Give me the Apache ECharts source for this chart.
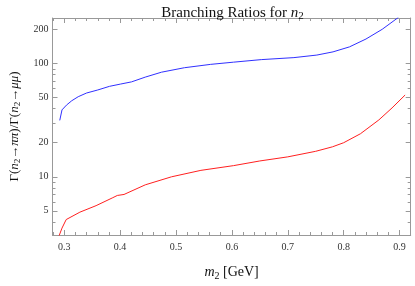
<!DOCTYPE html>
<html><head><meta charset="utf-8">
<script src="https://cdn.jsdelivr.net/npm/echarts@6/dist/echarts.min.js"></script>
<style>html,body{margin:0;padding:0;background:#fff}#c{width:415px;height:286px}</style>
</head><body><div id="c"></div>
<script>
// Data (x = m2 in GeV, y = ratio)
const blueX = [0.292,0.296,0.304,0.3135,0.325,0.34,0.36,0.381,0.401,0.4205,0.445,0.474,0.515,0.562,0.603,0.6526,0.711,0.752,0.781,0.8105,0.84,0.869,0.898];
const blueY = [31.5,39,43,47,51,55,58.5,63,66,69,76,84,92,98.5,103,108.5,113,119,127,140.6,165,201,256];
const redX = [0.2895,0.296,0.3035,0.328,0.357,0.387,0.395,0.407,0.445,0.492,0.5446,0.603,0.65,0.7,0.75,0.78,0.8,0.83,0.863,0.8866,0.91];
const redY = [2.9,3.52,4.19,4.87,5.56,6.54,6.84,6.98,8.49,10,11.4,12.55,13.8,15,16.8,18.4,20,24,31.8,40.6,52.8];
const xMajor = [0.3,0.4,0.5,0.6,0.7,0.8,0.9];
const xMinor = [0.28,0.32,0.34,0.36,0.38,0.42,0.44,0.46,0.48,0.52,0.54,0.56,0.58,0.62,0.64,0.66,0.68,0.72,0.74,0.76,0.78,0.82,0.84,0.86,0.88,0.92];
const yMajor = [5,10,20,50,100,200];
const yMinor = [3,4,6,7,8,9,30,40,60,70,80,90];
const xRange = [0.279,0.92];
const yRange = [3.06,253];

const gray = '#999';
const serif = '"Liberation Serif","DejaVu Serif",serif';
function mkRich(fs){
  return {
    i:{fontStyle:'italic',fontFamily:serif,fontSize:fs,color:'#111',lineHeight:fs+3},
    sub:{fontFamily:serif,fontSize:Math.round(fs*0.7),color:'#111',verticalAlign:'bottom',lineHeight:Math.round(fs*0.7)+1},
    n:{fontFamily:serif,fontSize:fs,color:'#111',lineHeight:fs+3}
  };
}
function xa(pos, ticks, len, showLabel, showLine, extra){
  return Object.assign({
    type:'value', position:pos, min:xRange[0], max:xRange[1],
    axisLine:{show:showLine,onZero:false,lineStyle:{color:gray,width:1}},
    axisTick:{show:true,inside:true,length:len,customValues:ticks,lineStyle:{color:gray,width:1}},
    axisLabel:{show:showLabel,customValues:xMajor,fontFamily:serif,fontSize:10,color:'#333',margin:7,formatter:v=>v.toFixed(1)},
    splitLine:{show:false}
  }, extra||{});
}
function ya(pos, ticks, len, showLabel, showLine, extra){
  return Object.assign({
    type:'log', logBase:10, position:pos, min:yRange[0], max:yRange[1],
    axisLine:{show:showLine,onZero:false,lineStyle:{color:gray,width:1}},
    axisTick:{show:true,inside:true,length:len,customValues:ticks,lineStyle:{color:gray,width:1}},
    axisLabel:{show:showLabel,customValues:yMajor,fontFamily:serif,fontSize:10,color:'#333',margin:4,formatter:v=>String(Math.round(v))},
    splitLine:{show:false}
  }, extra||{});
}
const chart = echarts.init(document.getElementById('c'), null, {renderer:'canvas'});
chart.setOption({
  animation:false,
  title:{text:'{n|Branching Ratios for }{i|n}{sub|2}', left:227.5, textAlign:'center', top:-1,
    textStyle:{rich:mkRich(15), fontFamily:serif, fontSize:15, fontWeight:'normal', color:'#111'}},
  grid:{left:44.3, right:4.3, top:18, bottom:42, containLabel:false},
  xAxis:[
    xa('bottom', xMajor, 5, true, true, {name:'{i|m}{sub|2}{n| [GeV]}', nameLocation:'middle', nameGap:29, nameTextStyle:{rich:mkRich(14)}}),
    xa('bottom', xMinor, 3, false, false),
    xa('top', xMajor, 5, false, true),
    xa('top', xMinor, 3, false, false)
  ],
  yAxis:[
    ya('left', yMajor, 5, true, true, {name:'{n|Γ(}{i|n}{sub|2}{n|→}{i|ππ}{n|)/Γ(}{i|n}{sub|2}{n|→}{i|μμ}{n|)}', nameLocation:'middle', nameGap:30, nameTextStyle:{rich:mkRich(13)}}),
    ya('left', yMinor, 3, false, false),
    ya('right', yMajor, 5, false, true),
    ya('right', yMinor, 3, false, false)
  ],
  series:[
    {type:'line', xAxisIndex:0, yAxisIndex:0, showSymbol:false, symbol:'none', clip:true,
     lineStyle:{color:'#3030ff',width:1}, data:blueX.map((x,i)=>[x,blueY[i]])},
    {type:'line', xAxisIndex:0, yAxisIndex:0, showSymbol:false, symbol:'none', clip:true,
     lineStyle:{color:'#ff2020',width:1}, data:redX.map((x,i)=>[x,redY[i]])}
  ]
});
</script></body></html>
